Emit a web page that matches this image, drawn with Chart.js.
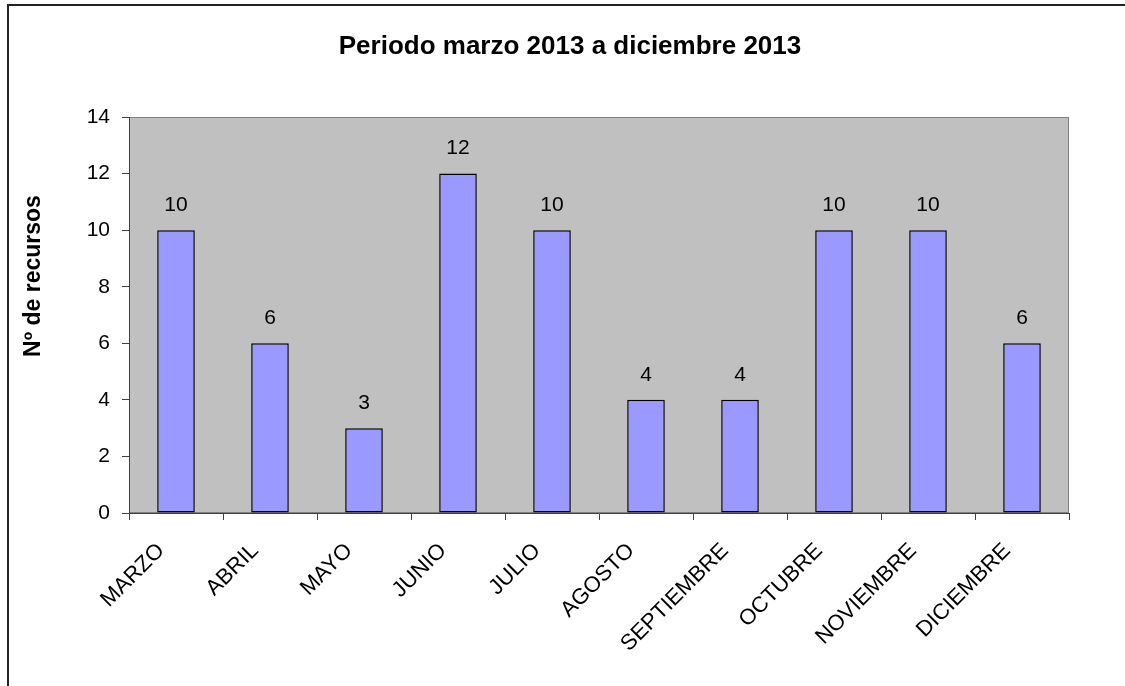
<!DOCTYPE html>
<html>
<head>
<meta charset="utf-8">
<script src="https://cdn.jsdelivr.net/npm/chart.js@4/dist/chart.umd.min.js"></script>
<style>
  body { margin: 0; background: #ffffff; }
  #wrap { position: relative; width: 1125px; height: 686px; }
</style>
</head>
<body>
<div id="wrap"><canvas id="recursosChart" width="1125" height="686"></canvas></div>
<script>
// Recursos por mes, marzo a diciembre 2013
var meses = ['MARZO', 'ABRIL', 'MAYO', 'JUNIO', 'JULIO', 'AGOSTO', 'SEPTIEMBRE', 'OCTUBRE', 'NOVIEMBRE', 'DICIEMBRE'];
var recursos = [10, 6, 3, 12, 10, 4, 4, 10, 10, 6];
var tituloGrafico = 'Periodo marzo 2013 a diciembre 2013';
var tituloEjeY = 'Nº de recursos';

var fuente = 'Arial, "Liberation Sans", sans-serif';

// fondo blanco, marco exterior y area gris del grafico
var fondoPlugin = {
    id: 'fondo',
    beforeDraw: function(chart) {
        var c = chart.ctx;
        var a = chart.chartArea;
        c.save();
        c.fillStyle = '#ffffff';
        c.fillRect(0, 0, chart.width, chart.height);
        c.strokeStyle = '#222222';
        c.lineWidth = 2;
        c.beginPath();
        c.moveTo(8, chart.height);
        c.lineTo(8, 5);
        c.lineTo(chart.width, 5);
        c.stroke();
        c.fillStyle = '#c0c0c0';
        c.fillRect(a.left, a.top, a.right - a.left, a.bottom - a.top);
        c.strokeStyle = '#808080';
        c.lineWidth = 1;
        c.strokeRect(a.left + 0.5, a.top + 0.5, a.right - a.left - 1, a.bottom - a.top - 1);
        c.restore();
    }
};

// etiquetas de valor encima de cada barra + titulo del eje Y
var etiquetasPlugin = {
    id: 'etiquetas',
    afterDatasetsDraw: function(chart) {
        var c = chart.ctx;
        var meta = chart.getDatasetMeta(0);
        c.save();
        c.fillStyle = '#000000';
        c.font = '21px ' + fuente;
        c.textAlign = 'center';
        c.textBaseline = 'middle';
        meta.data.forEach(function(bar, i) {
            c.fillText(String(recursos[i]), bar.x, bar.y - 25);
        });
        // titulo del eje Y (no centrado en el eje en el original)
        c.font = 'bold 23px ' + fuente;
        c.translate(34, 276);
        c.rotate(-Math.PI / 2);
        c.fillText(tituloEjeY, 0, 0);
        c.restore();
    }
};

var ctx = document.getElementById('recursosChart');

var recursosChart = new Chart(ctx, {
    type: 'bar',
    data: {
        labels: meses,
        datasets: [{
            data: recursos,
            backgroundColor: '#9999ff',
            borderColor: '#000000',
            borderWidth: 1.5,
            borderSkipped: false,
            categoryPercentage: 1.0,
            barPercentage: 0.4
        }]
    },
    options: {
        responsive: false,
        animation: false,
        layout: {
            padding: { left: 15, right: 0, top: 0, bottom: 0 }
        },
        plugins: {
            legend: { display: false },
            tooltip: { enabled: false },
            title: {
                display: true,
                text: tituloGrafico,
                color: '#000000',
                font: { family: fuente, size: 26, weight: 'bold' },
                padding: { top: 31.4, bottom: 54.4 }
            }
        },
        scales: {
            x: {
                offset: true,
                grid: {
                    display: true,
                    offset: true,
                    drawOnChartArea: false,
                    tickLength: 7,
                    color: '#404040'
                },
                border: { display: true, color: '#404040', width: 1 },
                ticks: {
                    color: '#000000',
                    font: { family: fuente, size: 22 },
                    minRotation: 45,
                    maxRotation: 45,
                    autoSkip: false,
                    labelOffset: -15,
                    padding: 18
                },
                afterFit: function(scale) { scale.height = 173; }
            },
            y: {
                min: 0,
                max: 14,
                ticks: {
                    stepSize: 2,
                    color: '#000000',
                    font: { family: fuente, size: 21 },
                    padding: 12
                },
                grid: {
                    display: true,
                    drawOnChartArea: false,
                    tickLength: 7,
                    color: '#404040'
                },
                border: { display: true, color: '#404040', width: 1 },
                afterFit: function(scale) { scale.width = 114; }
            },
            // eje vacio a la derecha, solo para dejar el margen
            margen: {
                position: 'right',
                display: true,
                ticks: { display: false },
                grid: { display: false },
                border: { display: false },
                afterFit: function(scale) { scale.width = 56; }
            }
        }
    },
    plugins: [fondoPlugin, etiquetasPlugin]
});
</script>
</body>
</html>
